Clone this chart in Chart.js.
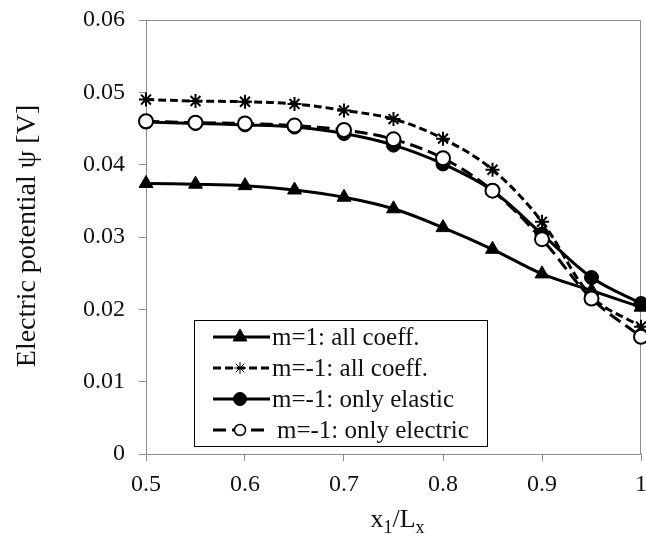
<!DOCTYPE html>
<html>
<head>
<meta charset="utf-8">
<script src="https://cdn.jsdelivr.net/npm/chart.js@4.4.0/dist/chart.umd.min.js"></script>
<style>
  html, body { margin: 0; padding: 0; background: #fff; }
</style>
</head>
<body>
<canvas id="potencial" width="646" height="541"></canvas>
<script>
// position along the plate, x1/Lx
const posicoes = [0.5, 0.55, 0.6, 0.65, 0.7, 0.75, 0.8, 0.85, 0.9, 0.95, 1.0];

// electric potential psi [V]
const mPosTodos = [0.0374, 0.0373, 0.0371, 0.0365, 0.0355, 0.0339, 0.0313, 0.0283, 0.0249, 0.0226, 0.0203];
const mNegTodos = [0.0490, 0.0488, 0.0487, 0.0484, 0.0475, 0.0463, 0.0436, 0.0393, 0.0321, 0.0218, 0.0176];
const mNegElastico = [0.0459, 0.0457, 0.0455, 0.0452, 0.0443, 0.0427, 0.0401, 0.0364, 0.0304, 0.0244, 0.0208];
const mNegEletrico = [0.0460, 0.0458, 0.0457, 0.0454, 0.0448, 0.0435, 0.0409, 0.0364, 0.0297, 0.0215, 0.0162];

const rotulos = ['m=1: all coeff.', 'm=-1: all coeff.', 'm=-1: only elastic', 'm=-1: only electric'];

const ticksX = [0.5, 0.6, 0.7, 0.8, 0.9, 1];
const ticksY = [0, 0.01, 0.02, 0.03, 0.04, 0.05, 0.06];

const fonte = '"Liberation Serif", "Times New Roman", serif';

function pontos(valores) {
    return posicoes.map((x, i) => ({ x: x, y: valores[i] }));
}

// frame around the plot area (top and right sides)
const moldura = {
    id: 'moldura',
    beforeDatasetsDraw(chart) {
        const a = chart.chartArea;
        const c = chart.ctx;
        c.save();
        c.strokeStyle = '#8c8c8c';
        c.lineWidth = 1;
        c.beginPath();
        c.moveTo(a.left, a.top + 0.5);
        c.lineTo(a.right - 0.5, a.top + 0.5);
        c.lineTo(a.right - 0.5, a.bottom);
        c.stroke();
        c.restore();
    }
};

// axis titles (x title needs subscripts)
const titulos = {
    id: 'titulos',
    afterDraw(chart) {
        const c = chart.ctx;
        const a = chart.chartArea;
        c.save();
        c.fillStyle = '#111';
        c.textBaseline = 'alphabetic';

        c.save();
        c.translate(35, 236);
        c.rotate(-Math.PI / 2);
        c.textAlign = 'center';
        c.font = '28px ' + fonte;
        c.fillText('Electric potential \u03C8 [V]', 0, 0);
        c.restore();

        const partes = [
            { t: 'x', f: 26, dy: 0 },
            { t: '1', f: 18, dy: 6 },
            { t: '/L', f: 26, dy: 0 },
            { t: 'x', f: 18, dy: 6 }
        ];
        let total = 0;
        partes.forEach(p => { c.font = p.f + 'px ' + fonte; p.w = c.measureText(p.t).width; total += p.w; });
        let x = (a.left + a.right) / 2 - total / 2 + 4;
        c.textAlign = 'left';
        partes.forEach(p => {
            c.font = p.f + 'px ' + fonte;
            c.fillText(p.t, x, 527 + p.dy);
            x += p.w;
        });
        c.restore();
    }
};

// boxed legend inside the plot
const legenda = {
    id: 'legenda',
    afterDraw(chart) {
        const c = chart.ctx;
        const caixa = { x: 194, y: 320, w: 293, h: 126 };
        c.save();
        c.fillStyle = '#fff';
        c.fillRect(caixa.x, caixa.y, caixa.w, caixa.h);
        c.strokeStyle = '#000';
        c.lineWidth = 1;
        c.strokeRect(caixa.x + 0.5, caixa.y + 0.5, caixa.w, caixa.h);

        const ordem = [0, 1, 2, 3];
        ordem.forEach((idx, linha) => {
            const ds = chart.data.datasets[idx];
            const y = caixa.y + 17 + linha * 31;
            c.strokeStyle = '#000';
            c.lineWidth = ds.borderWidth;
            c.setLineDash(ds.borderDash || []);
            c.beginPath();
            c.moveTo(213, y);
            c.lineTo(270, y);
            c.stroke();
            c.setLineDash([]);
            c.fillStyle = ds.pointBackgroundColor;
            c.strokeStyle = ds.pointBorderColor;
            c.lineWidth = ds.legendBorder;
            Chart.helpers.drawPoint(c, {
                pointStyle: ds.pointStyle,
                radius: ds.legendRadius,
                rotation: 0,
                borderWidth: ds.legendBorder
            }, 240, y);
            c.fillStyle = '#111';
            c.font = '25px ' + fonte;
            c.textBaseline = 'middle';
            c.textAlign = 'left';
            c.fillText(rotulos[idx], linha === 3 ? 277 : 272, y + 1);
        });
        c.restore();
    }
};

const eixo = {
    grid: { drawOnChartArea: false, tickLength: 7, color: '#8c8c8c', lineWidth: 1 },
    border: { color: '#8c8c8c', width: 1 }
};

new Chart(document.getElementById('potencial'), {
    type: 'line',
    data: {
        datasets: [
            {
                label: rotulos[0],
                data: pontos(mPosTodos),
                borderColor: '#000',
                borderWidth: 3,
                pointStyle: 'triangle',
                pointRadius: 8,
                pointBorderWidth: 1,
                pointBackgroundColor: '#000',
                pointBorderColor: '#000',
                legendRadius: 8,
                legendBorder: 1,
                tension: 0.35,
                clip: false,
                order: 3
            },
            {
                label: rotulos[1],
                data: pontos(mNegTodos),
                borderColor: '#000',
                borderWidth: 3,
                borderDash: [8, 4],
                pointStyle: 'star',
                pointRadius: 7,
                pointBorderWidth: 2,
                pointBackgroundColor: '#000',
                pointBorderColor: '#000',
                legendRadius: 6,
                legendBorder: 1,
                tension: 0.35,
                clip: false,
                order: 2
            },
            {
                label: rotulos[2],
                data: pontos(mNegElastico),
                borderColor: '#000',
                borderWidth: 3,
                pointStyle: 'circle',
                pointRadius: 7,
                pointBorderWidth: 1,
                pointBackgroundColor: '#000',
                pointBorderColor: '#000',
                legendRadius: 6.5,
                legendBorder: 1,
                tension: 0.35,
                clip: false,
                order: 1
            },
            {
                label: rotulos[3],
                data: pontos(mNegEletrico),
                borderColor: '#000',
                borderWidth: 3,
                borderDash: [13, 6],
                pointStyle: 'circle',
                pointRadius: 7,
                pointBorderWidth: 2,
                pointBackgroundColor: '#fff',
                pointBorderColor: '#000',
                legendRadius: 5.5,
                legendBorder: 1.5,
                tension: 0.35,
                clip: false,
                order: 0
            }
        ]
    },
    options: {
        responsive: false,
        animation: false,
        devicePixelRatio: 1,
        layout: { padding: { top: 20, right: 5, left: 0, bottom: 0 } },
        plugins: {
            legend: { display: false },
            tooltip: { enabled: false }
        },
        scales: {
            x: {
                type: 'linear',
                min: 0.5,
                max: 1,
                ...eixo,
                afterBuildTicks: s => { s.ticks = ticksX.map(v => ({ value: v })); },
                afterFit: s => { s.height = 87; s.paddingLeft = 0; s.paddingRight = 0; },
                ticks: {
                    autoSkip: false,
                    maxRotation: 0,
                    padding: 9,
                    color: '#111',
                    font: { family: fonte, size: 24 },
                    callback: v => String(v)
                }
            },
            y: {
                type: 'linear',
                min: 0,
                max: 0.06,
                ...eixo,
                afterBuildTicks: s => { s.ticks = ticksY.map(v => ({ value: v })); },
                afterFit: s => { s.width = 146; s.paddingTop = 0; s.paddingBottom = 0; },
                ticks: {
                    padding: 14,
                    color: '#111',
                    font: { family: fonte, size: 24 },
                    callback: v => String(+v.toFixed(2))
                }
            }
        }
    },
    plugins: [moldura, titulos, legenda, {
        id: 'areaFixa',
        // pin the right edge of the plot area after layout
        afterLayout(chart) {
            const a = chart.chartArea;
            const sx = chart.scales.x;
            a.right = 641;
            a.width = a.right - a.left;
            sx.right = 641;
            sx.width = sx.right - sx.left;
            sx.configure();
        }
    }]
});
</script>
</body>
</html>
